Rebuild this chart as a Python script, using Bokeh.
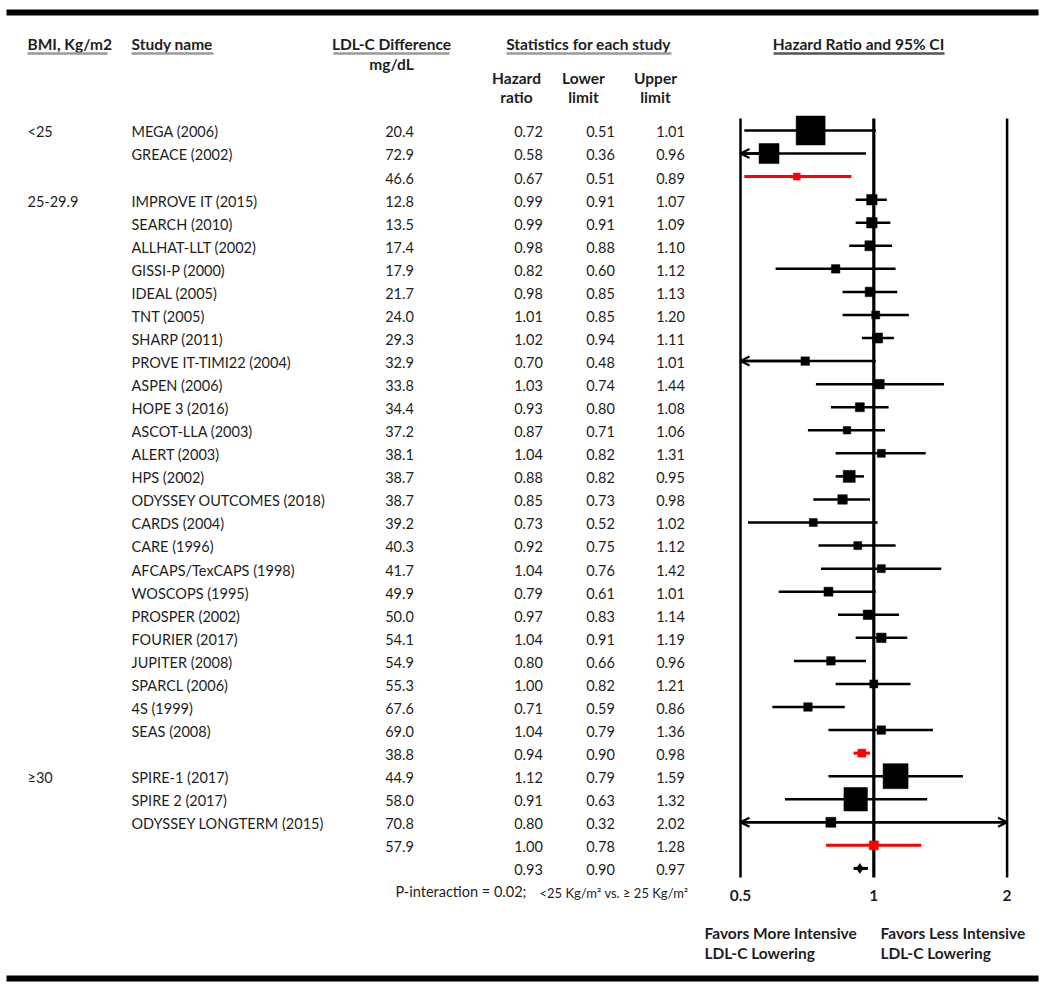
import numpy as np
from bokeh.plotting import figure
from bokeh.models import Range1d, LogScale, ColumnDataSource, Arrow, OpenHead
from bokeh.core.properties import value
from bokeh.embed import file_html
from bokeh.resources import INLINE

# ---------------- data ----------------
bmi_labels = ["<25", "25-29.9", "≥30"]
bmi_rows = [0, 3, 28]

study_names = [
    "MEGA (2006)", "GREACE (2002)", "",
    "IMPROVE IT (2015)", "SEARCH (2010)", "ALLHAT-LLT (2002)", "GISSI-P (2000)",
    "IDEAL (2005)", "TNT (2005)", "SHARP (2011)", "PROVE IT-TIMI22 (2004)",
    "ASPEN (2006)", "HOPE 3 (2016)", "ASCOT-LLA (2003)", "ALERT (2003)",
    "HPS (2002)", "ODYSSEY OUTCOMES (2018)", "CARDS (2004)", "CARE (1996)",
    "AFCAPS/TexCAPS (1998)", "WOSCOPS (1995)", "PROSPER (2002)", "FOURIER (2017)",
    "JUPITER (2008)", "SPARCL (2006)", "4S (1999)", "SEAS (2008)", "",
    "SPIRE-1 (2017)", "SPIRE 2 (2017)", "ODYSSEY LONGTERM (2015)", "", "",
]
ldl_diff = [
    "20.4", "72.9", "46.6",
    "12.8", "13.5", "17.4", "17.9", "21.7", "24.0", "29.3", "32.9", "33.8",
    "34.4", "37.2", "38.1", "38.7", "38.7", "39.2", "40.3", "41.7", "49.9",
    "50.0", "54.1", "54.9", "55.3", "67.6", "69.0", "38.8",
    "44.9", "58.0", "70.8", "57.9", "",
]
hazard_ratio = [
    0.72, 0.58, 0.67,
    0.99, 0.99, 0.98, 0.82, 0.98, 1.01, 1.02, 0.70, 1.03, 0.93, 0.87, 1.04,
    0.88, 0.85, 0.73, 0.92, 1.04, 0.79, 0.97, 1.04, 0.80, 1.00, 0.71, 1.04, 0.94,
    1.12, 0.91, 0.80, 1.00, 0.93,
]
lower_limit = [
    0.51, 0.36, 0.51,
    0.91, 0.91, 0.88, 0.60, 0.85, 0.85, 0.94, 0.48, 0.74, 0.80, 0.71, 0.82,
    0.82, 0.73, 0.52, 0.75, 0.76, 0.61, 0.83, 0.91, 0.66, 0.82, 0.59, 0.79, 0.90,
    0.79, 0.63, 0.32, 0.78, 0.90,
]
upper_limit = [
    1.01, 0.96, 0.89,
    1.07, 1.09, 1.10, 1.12, 1.13, 1.20, 1.11, 1.01, 1.44, 1.08, 1.06, 1.31,
    0.95, 0.98, 1.02, 1.12, 1.42, 1.01, 1.14, 1.19, 0.96, 1.21, 0.86, 1.36, 0.98,
    1.59, 1.32, 2.02, 1.28, 0.97,
]
# row kind: study, subgroup pooled estimate, overall estimate
row_kind = (["study"] * 2 + ["sub"] + ["study"] * 24 + ["sub"]
            + ["study"] * 3 + ["sub"] + ["overall"])
# drawn marker size (study weight), px
marker_px = [
    29, 20, 7,
    10.5, 10.5, 10, 8.5, 9.5, 8, 10, 8.5, 9.5, 9, 7.5, 8, 12, 9.5, 8, 8, 8,
    9, 9.5, 9.5, 8.5, 8, 8.5, 8.5, 8,
    25, 23.5, 10, 9, 10,
]
tick_values = [0.5, 1, 2]
tick_labels = ["0.5", "1", "2"]
axis_min, axis_max = 0.5, 2.0

# ---------------- figure ----------------
W, H = 1044, 985
p = figure(width=W, height=H, output_backend="svg", toolbar_location=None,
           x_range=Range1d(0, W), y_range=Range1d(H, 0),
           x_axis_location=None, y_axis_location=None, min_border=0,
           outline_line_color=None, background_fill_color="white")
p.grid.visible = False

# log scale for hazard ratios: 0.5 -> x 740, 2 -> x 1006.7
px_per_log2 = 133.3
x_one = 873.3
hr_start = 2 ** ((0 - x_one) / px_per_log2)
hr_end = 2 ** ((W - x_one) / px_per_log2)
p.extra_x_ranges = {"hr": Range1d(hr_start, hr_end)}
p.extra_x_scales = {"hr": LogScale()}
# rows: row 0 at y=130, 23.06 px per row
row0, row_h = 130.0, 23.06
p.extra_y_ranges = {"rows": Range1d((H - row0) / row_h, (0 - row0) / row_h)}

n = len(hazard_ratio)
rows = np.arange(n)
hr = np.array(hazard_ratio)
lo = np.array(lower_limit)
hi = np.array(upper_limit)
lo_c = np.clip(lo, axis_min, axis_max)
hi_c = np.clip(hi, axis_min, axis_max)
kind = np.array(row_kind)
col = np.where(kind == "sub", "#ff0000", "black")

TXT = "#1e1e1e"
FONT = value("Lato")

# top and bottom rules
p.segment(x0=[6, 6], x1=[1038, 1038], y0=[12, 978], y1=[12, 978],
          line_color="black", line_width=6)

# headers
hdr = dict(text_font=FONT, text_font_style="bold", text_font_size="15.5px",
           text_color=TXT, text_baseline="middle")
p.text(x=[27, 131], y=[43, 43], text=["BMI, Kg/m2", "Study name"], text_align="left", **hdr)
p.text(x=[391, 588, 858], y=[43, 43, 43],
       text=["LDL-C Difference", "Statistics for each study", "Hazard Ratio and 95% CI"],
       text_align="center", **hdr)
p.text(x=[391], y=[63], text=["mg/dL"], text_align="center", **hdr)
p.text(x=[516, 583, 655], y=[77, 77, 77], text=["Hazard", "Lower", "Upper"], text_align="center", **hdr)
p.text(x=[516, 583, 655], y=[96, 96, 96], text=["ratio", "limit", "limit"], text_align="center", **hdr)
p.segment(x0=[27, 131, 333, 506], x1=[107, 213, 449, 671], y0=[53] * 4, y1=[53] * 4,
          line_color="#9a9a9a", line_width=2.5)
p.segment(x0=[773], x1=[944], y0=[53], y1=[53], line_color="#555555", line_width=2.5)

# table body
body = dict(text_font=FONT, text_font_size="14.5px", text_color=TXT,
            text_baseline="middle", y_range_name="rows")
src = ColumnDataSource(dict(
    row=rows + 0.06, name=study_names, ldl=ldl_diff,
    hr_t=[f"{v:.2f}" for v in hazard_ratio],
    lo_t=[f"{v:.2f}" for v in lower_limit],
    hi_t=[f"{v:.2f}" for v in upper_limit],
))
p.text(x=131, y="row", text="name", source=src, text_align="left", **body)
p.text(x=399, y="row", text="ldl", source=src, text_align="center", **body)
p.text(x=528, y="row", text="hr_t", source=src, text_align="center", **body)
p.text(x=600, y="row", text="lo_t", source=src, text_align="center", **body)
p.text(x=670, y="row", text="hi_t", source=src, text_align="center", **body)
p.text(x=27, y=[r + 0.06 for r in bmi_rows], text=bmi_labels, text_align="left", **body)

# reference lines
p.segment(x0=tick_values, x1=tick_values, y0=[118] * 3, y1=[877] * 3,
          x_range_name="hr", line_color="black", line_width=[2.5, 3.2, 2.5])
p.text(x=tick_values, y=[895] * 3, text=tick_labels, x_range_name="hr",
       text_align="center", **hdr)

# confidence intervals
ci = ColumnDataSource(dict(x0=lo_c, x1=hi_c, y=rows, c=col,
                           w=np.where(kind == "study", 2.5, 3.0)))
p.segment(x0="x0", x1="x1", y0="y", y1="y", source=ci, line_color="c",
          line_width="w", x_range_name="hr", y_range_name="rows")

# arrows where the interval leaves the axis
left = lo < axis_min
right = hi > axis_max
arr = ColumnDataSource(dict(
    xs=np.concatenate([hr[left], hr[right]]),
    xe=np.concatenate([lo_c[left], hi_c[right]]),
    y=np.concatenate([rows[left], rows[right]]),
))
p.add_layout(Arrow(end=OpenHead(size=9, line_width=2.2, line_color="black"),
                   x_start="xs", y_start="y", x_end="xe", y_end="y", source=arr,
                   line_color="black", line_width=2.5,
                   x_range_name="hr", y_range_name="rows"))

# point estimates
mk = ColumnDataSource(dict(x=hr, y=rows, s=marker_px, c=col,
                           m=np.where(kind == "overall", "diamond", "square")))
p.scatter(x="x", y="y", size="s", marker="m", fill_color="c", line_color="c",
          line_width=0.5, source=mk, x_range_name="hr", y_range_name="rows")

# p-interaction note
p.text(x=[395], y=[891], text=["P-interaction = 0.02; "], text_font=FONT,
       text_font_size="14.5px", text_color=TXT, text_baseline="middle", text_align="left")
p.text(x=[539], y=[892], text=["<25 Kg/m² vs. ≥ 25 Kg/m²"], text_font=FONT,
       text_font_size="13px", text_color=TXT, text_baseline="middle", text_align="left")

# favors labels
p.text(x=[704, 704, 880, 880], y=[932, 952, 932, 952],
       text=["Favors More Intensive", "LDL-C Lowering", "Favors Less Intensive", "LDL-C Lowering"],
       text_align="left", **hdr)

open("out.html", "w").write(file_html(p, INLINE))
